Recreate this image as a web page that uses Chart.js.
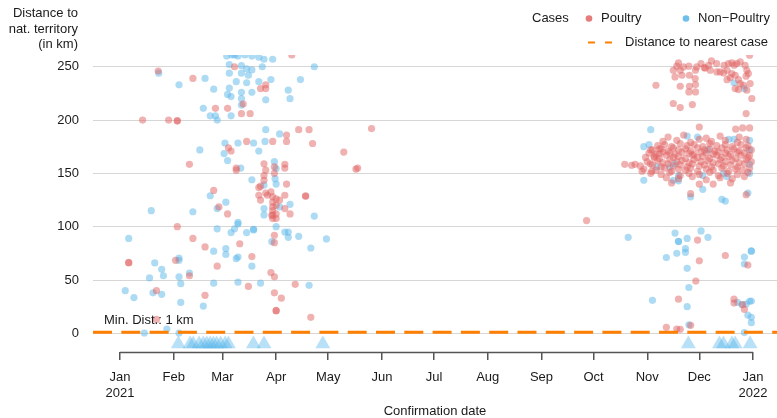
<!DOCTYPE html>
<html>
<head>
<meta charset="utf-8">
<title>Distance to national territory</title>
<script src="https://cdn.jsdelivr.net/npm/chart.js@4.4.1/dist/chart.umd.min.js"></script>
<style>
  html, body { margin: 0; padding: 0; background: #ffffff; }
  #wrap { width: 777px; height: 418px; }
</style>
</head>
<body>
<div id="wrap"><canvas id="chart" width="777" height="418"></canvas></div>
<script>
// --- data: x = days since 1 Jan 2021, y = distance in km ---

// month starts (days since 1 Jan 2021) and their labels
const monthTicks = [0, 31, 59, 90, 120, 151, 181, 212, 243, 273, 304, 334, 365];
const monthLabels = [['Jan', '2021'], 'Feb', 'Mar', 'Apr', 'May', 'Jun', 'Jul', 'Aug', 'Sep', 'Oct', 'Nov', 'Dec', ['Jan', '2022']];
const kmTicks = [0, 50, 100, 150, 200, 250];

// poultry outbreaks, first wave (Jan - Jun 2021)
const poultryWave1 = [
  [22,246],[42,239],[55,211],[62,211],[13,200],[28,200],[33,199],[33,199.5],[70,206],[75,206],[71,215],[66,250],
  [73,180],[62.5,174],[64,171],[40,158.5],[67,155],[67,153],[54,134],
  [99,261],[84,233],[81,229.5],[84,229.5],[103,191],[109,191],[145,192],[111,178],[88,180],[96,186],[96,180],
  [129,170],[136,154],[137,155],
  [83,159],[84,153],[83,148],[83,143.5],[89,156],[89,150],[95,158.5],[95,155],[96,140],[80,136.7],[81,138],
  [80,129.5],[84,131.6],[85,129.5],[81,125],[87,132.6],
  [88,128],[88,123],[88,118.5],[88,115],[88,111],[88,107.6],[87.5,110.7],[90,126],[90,120],[90,112],[90,107.6],
  [92,125],[95,129.5],[95,117],[98,112],[107,128.5],[107,129],
  [89,92],[89,85],[76,72],[87,57],[89,53],[101,46],[89,38],[93,33],[90,21],[90,21.5],[110,15],
  [33,100],[42,89],[49,81],[57,118.5],[62,112],[69,84],
  [5,66],[5,66.5],[32,68.5],[40,54],[56,63],[74,44],[21,40],[49,35.6],[21,13]
];

// poultry outbreaks, second wave (Oct - Dec 2021)
const poultryWave2 = [
  [269,105.7],
  // far group around 230-260 km
  [322,253.6],[321,250.5],[323,246.7],[319,246.7],[320,240.4],[328,250.5],[324,242],[328.3,242],[331.8,246.7],
  [335,253],[336.8,249.2],[331.6,238.9],[323,231.7],[328.3,231.7],[328,226.4],[331.8,233.3],[331.8,226.4],
  [341,255.4],[344,253],[346,245.1],[348,244.2],[348.3,251.4],[350.8,253],[352.8,253.6],[354.1,251.4],[355.6,253],
  [357.6,254.5],[360.4,251.4],[352.8,243.6],[354.7,242],[351.8,239.8],[350,237.9],[356.6,237.9],[361,241.1],
  [362.3,243.6],[357.6,234.2],[359.5,232.6],[363.3,234.2],[361.4,228],[354.7,229.5],[356.6,228.6],[364.3,220.2],
  [361,206.1],[319,215.5],[323,211.7],[330,214.5],[309,232.6],[363,260.8],[340.3,246.7],[344.1,245.1],
  [337.4,248.6],[339.3,251.4],[332.5,249.8],[324.8,249.8],[350,246.7],[361.4,246.7],
  // main group around 140-190 km
  [291,158.5],[295,157.6],[297,158.5],[301,152],[306.6,152],[305.7,159],[306,172],[308,165],[311,173],[311,168.6],
  [334,193.5],[355,191.4],[359,192.6],[363,192.6],
  [316,184],[325,186],[338,183],[346,185],[357,184],
  [313,180],[321,181],[329,179],[334,182],[341,180],[349,181],[356,179],[361,182],
  [310,176],[314,177],[318,175],[323,178],[327,176],[331,177],[336,175],[340,178],[344,176],[349,177],[353,175],[358,177],[362,176],
  [307,172],[312,173],[316,171],[319,174],[322,172],[326,173],[329,171],[333,174],[337,172],[340,173],[343,171],[347,174],
  [350,172],[354,173],[357,171],[361,174],[364,172],
  [305,169],[309,168],[313,170],[317,169],[320,168],[324,170],[328,169],[331,168],[335,170],[338,169],[342,168],[345,170],
  [349,169],[352,168],[356,170],[360,169],[363,167],
  [303,165],[308,166],[311,164],[315,167],[319,165],[322,166],[326,164],[330,167],[333,165],[336,166],[340,164],[344,167],
  [347,165],[351,166],[355,164],[358,167],[362,165],
  [304,161],[310,162],[313,160],[317,163],[321,161],[324,162],[328,160],[331,163],[335,161],[339,162],[342,160],[346,163],
  [349,161],[353,162],[357,160],[361,163],[364,161],
  [300,157],[307,158],[312,156],[316,159],[319,157],[323,158],[327,156],[330,159],[334,157],[337,158],[341,156],[345,159],
  [348,157],[352,158],[356,156],[360,159],
  [302,154],[309,153],[314,155],[318,152],[322,154],[326,153],[329,155],[333,152],[338,154],[342,153],[347,155],[351,152],
  [355,154],[359,153],[363,155],
  [306,150],[312,149],[317,151],[323,148],[328,150],[334,149],[340,151],[345,148],[350,150],[356,149],[362,151],
  [315,146],[322,145],[330,147],[338,144],[346,146],[353,145],[360,147],
  [318,141],[334,140],[352,141],
  // close to the border
  [361,130],[342,140],[329,131],[333,87.5],[349,73],[334,68],[362,64],[332,49],[322,32],[354,32],[354,28.4],
  [359,27],[360,22.5],[315,5.6],[321,4],[323,3.8],[329,7.5]
];

// non-poultry cases, first wave
const nonPoultryWave1 = [
  [22.3,244],[34,233],[49,239],[54,229],[48,211],[52,204],[55,204],[56,200],[64,204],
  [61.5,260],[64.4,261],[68,260],[76,260],[80,259],[66,261],[72,261],
  [63,252],[70,251],[73,248],[76,247],[82,250],[63,244],[70,244],[74,242],[67,236],[73,235],[80,236],
  [76,226],[70,226],[63,230],[62,224],[64,222],[70,220],[70,214],
  [46,172],[60.5,178.5],[68,178.5],[77,178.5],[80,171],[60,168.6],[62,162],[69.6,155],[76,144],[52,129],[84,191],[83.6,180],
  [83,257],[88,257],[87,238],[112,250],[104,238],[84,219],[97,228],[98,220],[92,187],[89,161],[90,154.5],[89.4,145],[83,139],[90,140],
  [83,117],[83,111],[98,121],[92,118.5],[112,110],[90,100],[77,97],[95,95],[97,95],[97,90],[103,91],[87.5,86],[119,88.5],[110,80],
  [76,63],[81,47],[109,45],
  [18,115],[42,114],[56,117],[61,123],[68,104],[68,102.5],[66,98],[64,94.5],[73,94.5],[77,97.6],[56,98],
  [5,89],[54,77],[61,79.5],[61,74],[68,71.6],[67,70],[34,70.6],[34,68.5],[20,66],[24,60],[25,54],[17,52],[34,53],[40,56.6],
  [35,46.6],[54,47],[68,48],[3,40],[8,33.5],[19,38],[24,36.6],[35,29],[48,25.6],[14,0.3],[27,4],[34,0.3]
];

// non-poultry cases, second wave
const nonPoultryWave2 = [
  [354,235],[360,229.5],
  [306,191],[302,175],[305,177],[327,185],[333,184],[339,172],[351,182],[354,182],[363,181],[363,172],[363,158.5],[363,150],
  [362,131.6],[302,143.5],[319,143.5],[322,143],[322,148],[336,148],[336,135],[348,150],[350,147],[320,159],[317,156],[309.5,156],
  [329,128],[347,125.7],[349,124],
  [293,90],[320,94],[322,86],[322,86.3],[327,89],[335,96],[339,90],[326,79.5],[326,76],[321,75],[315,71],[327,61],[328,43],
  [307,31],[327,25],[328,8],[360,71.6],[360,65],[364,77],[364,77.3],[356,29],[358.5,27],[361,27.5],[363,30],[364,30.3],
  [362,17],[364,15],[364,10],[360,0.7]
];

// non-poultry cases right at the border (drawn as triangles under the axis)
const borderCaseDays = [33.6, 40.4, 42.2, 45.6, 48, 50, 52, 53.8, 55.7, 58, 60.6, 62.5, 76.9, 83, 116.9,
  327.7, 345.6, 347.9, 352.8, 354.7, 363.3];
const borderRowKm = -10;

// nearest case distance
const minDistanceKm = 1;

const xMin = -15.6;
const xMax = 378.8;
const yMin = -17.5;
const yMax = 261;

const FONT = "'Liberation Sans', Arial, Helvetica, sans-serif";
const TEXT = '#1a1a1a';
const PINK = 'rgba(226, 100, 100, 0.5)';
const BLUE = 'rgba(86, 180, 233, 0.48)';
const ORANGE = '#ff7f00';

function toPoints(pairs) {
  return pairs.map(p => ({ x: p[0], y: p[1] }));
}

// legend, axis titles and the bottom axis line are drawn by hand
const decorations = {
  id: 'decorations',
  afterDraw(chart) {
    const ctx = chart.ctx;
    const xs = chart.scales.x;
    const ys = chart.scales.y;
    const area = chart.chartArea;
    ctx.save();

    // axis line spanning Jan 2021 .. Jan 2022
    ctx.strokeStyle = '#555555';
    ctx.lineWidth = 1.5;
    ctx.beginPath();
    ctx.moveTo(xs.getPixelForValue(monthTicks[0]), area.bottom + 0.5);
    ctx.lineTo(xs.getPixelForValue(monthTicks[monthTicks.length - 1]), area.bottom + 0.5);
    ctx.stroke();

    ctx.font = '13px ' + FONT;
    ctx.fillStyle = TEXT;
    ctx.textBaseline = 'middle';

    // y title
    ctx.textAlign = 'right';
    ctx.fillText('Distance to', 78, 13.5);
    ctx.fillText('nat. territory', 78, 29);
    ctx.fillText('(in km)', 78, 44.5);

    // x title
    ctx.textAlign = 'center';
    ctx.fillText('Confirmation date', (area.left + area.right) / 2, 411);

    // min distance note
    ctx.textAlign = 'left';
    ctx.fillText('Min. Dist.: ' + minDistanceKm + ' km', area.left + 11, ys.getPixelForValue(minDistanceKm) - 12);

    // legend
    ctx.fillText('Cases', 532, 18);
    ctx.fillStyle = 'rgba(226, 100, 100, 0.85)';
    ctx.beginPath(); ctx.arc(589, 18.5, 3.3, 0, Math.PI * 2); ctx.fill();
    ctx.fillStyle = 'rgba(86, 180, 233, 0.85)';
    ctx.beginPath(); ctx.arc(686, 18.5, 3.3, 0, Math.PI * 2); ctx.fill();
    ctx.fillStyle = TEXT;
    ctx.fillText('Poultry', 601, 18);
    ctx.fillText('Non\u2212Poultry', 698, 18);

    ctx.strokeStyle = ORANGE;
    ctx.lineWidth = 2;
    ctx.setLineDash([7, 10]);
    ctx.beginPath();
    ctx.moveTo(588, 42.5);
    ctx.lineTo(613, 42.5);
    ctx.stroke();
    ctx.setLineDash([]);
    ctx.fillText('Distance to nearest case', 625, 42);

    ctx.restore();
  }
};

const ctx = document.getElementById('chart').getContext('2d');
new Chart(ctx, {
  type: 'scatter',
  data: {
    datasets: [
      {
        type: 'line',
        label: 'Distance to nearest case',
        data: [{ x: xMin, y: minDistanceKm }, { x: xMax, y: minDistanceKm }],
        borderColor: ORANGE,
        borderWidth: 3,
        borderDash: [19, 9.3],
        pointRadius: 0,
        order: 0
      },
      {
        label: 'Border cases',
        data: borderCaseDays.map(d => ({ x: d, y: borderRowKm })),
        pointStyle: 'triangle',
        pointRadius: 8.6,
        backgroundColor: 'rgba(86, 180, 233, 0.42)',
        borderWidth: 0,
        order: 1
      },
      {
        label: 'Non-Poultry',
        data: toPoints(nonPoultryWave1.concat(nonPoultryWave2)),
        backgroundColor: BLUE,
        borderWidth: 0,
        pointRadius: 3.6,
        clip: 0,
        order: 3
      },
      {
        label: 'Poultry',
        data: toPoints(poultryWave1.concat(poultryWave2)),
        backgroundColor: PINK,
        borderWidth: 0,
        pointRadius: 3.6,
        clip: 0,
        order: 2
      }
    ]
  },
  options: {
    responsive: false,
    devicePixelRatio: 1,
    animation: false,
    events: [],
    layout: { autoPadding: false, padding: { top: 55, right: 0, left: 0, bottom: 0 } },
    plugins: {
      legend: { display: false },
      tooltip: { enabled: false }
    },
    scales: {
      x: {
        type: 'linear',
        min: xMin,
        max: xMax,
        afterBuildTicks: scale => { scale.ticks = monthTicks.map(v => ({ value: v })); },
        afterFit: scale => {
          scale.height = 66;
          scale.paddingLeft = 0;
          scale.paddingRight = 0;
        },
        border: { display: false },
        grid: {
          drawOnChartArea: false,
          drawTicks: true,
          tickLength: 8,
          color: '#555555',
          lineWidth: 1.5
        },
        ticks: {
          autoSkip: false,
          maxRotation: 0,
          padding: 10,
          color: TEXT,
          font: { family: FONT, size: 13 },
          callback: (value, index) => monthLabels[monthTicks.indexOf(value)]
        }
      },
      y: {
        type: 'linear',
        min: yMin,
        max: yMax,
        afterBuildTicks: scale => { scale.ticks = kmTicks.map(v => ({ value: v })); },
        afterFit: scale => {
          scale.width = 93;
          scale.paddingTop = 0;
          scale.paddingBottom = 0;
        },
        border: { display: false },
        grid: {
          drawTicks: false,
          color: '#d6d6d6',
          lineWidth: 1
        },
        ticks: {
          padding: 14,
          color: TEXT,
          font: { family: FONT, size: 13 }
        }
      }
    }
  },
  plugins: [decorations]
});
</script>
</body>
</html>
